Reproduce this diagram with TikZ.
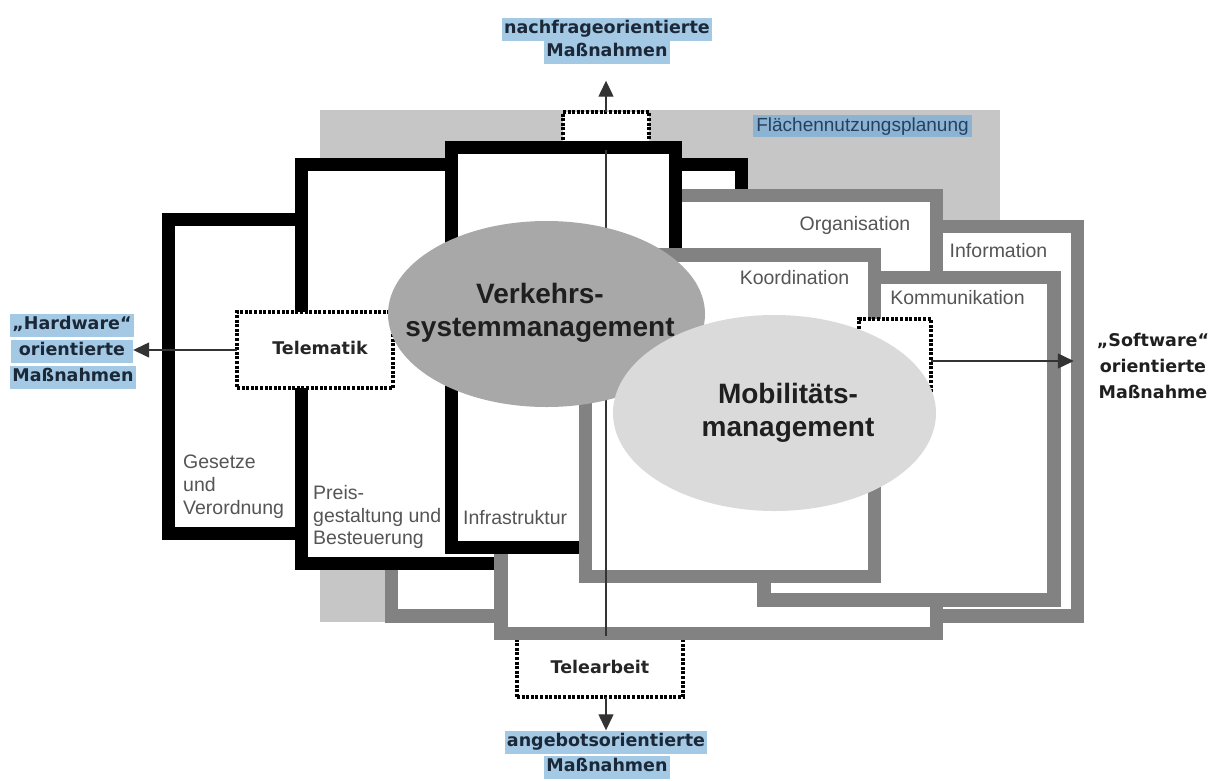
\documentclass[tikz,border=0pt]{standalone}
\usepackage{fontspec}
\setmainfont{Liberation Sans}
\newfontfamily\tagfont{DejaVu Sans}
\usetikzlibrary{arrows.meta,shapes.geometric}

\definecolor{planGray}{HTML}{C6C6C6}
\definecolor{frameGray}{HTML}{828282}
\definecolor{vsmGray}{HTML}{A8A8A8}
\definecolor{mobGray}{HTML}{DADADA}
\definecolor{tagBlue}{HTML}{A4C9E4}
\definecolor{planBlue}{HTML}{8DB3D3}
\definecolor{tagText}{HTML}{1B2838}
\definecolor{planText}{HTML}{25415F}
\definecolor{boxText}{HTML}{555555}
\definecolor{wire}{HTML}{333333}

\begin{document}
\begin{tikzpicture}[x=1pt,y=-1pt,
  panel/.style={rectangle, inner sep=0pt, outer sep=0pt, fill=white},
  hardpanel/.style={panel, draw=black, line width=13pt},
  softpanel/.style={panel, draw=frameGray, line width=13.5pt},
  dotbox/.style={rectangle, inner sep=0pt, outer sep=0pt, fill=white, draw=black,
    line width=3.4pt, dash pattern=on 3pt off 1.6pt, text=black!85,
    font=\tagfont\bfseries\fontsize{17.5}{20}\selectfont},
  boxtext/.style={text=boxText, font=\fontsize{19.5}{23}\selectfont, inner sep=0pt, align=left},
  tagline/.style={fill=tagBlue, text=tagText, font=\tagfont\bfseries\fontsize{17.5}{20}\selectfont,
    inner xsep=2pt, inner ysep=3pt, text height=13pt, text depth=4pt},
  bigtext/.style={text=black!88, font=\bfseries\fontsize{28}{33}\selectfont, align=center, inner sep=0pt},
  conn/.style={draw=wire, line width=1.3pt},
  tipped/.style={-{Triangle[length=16pt,width=15pt]}}
]
\path[use as bounding box] (0,0) rectangle (1219,780);

% planning area in the background
\node[fill=planGray, inner sep=0pt, minimum width=680pt, minimum height=512pt] (plan) at (660,366) {};
\node[fill=planBlue, text=planText, font=\fontsize{19}{22}\selectfont, inner xsep=3pt, inner ysep=2pt,
  text height=14pt, text depth=4pt] (planlabel) at (862.5,126) {Flächennutzungsplanung};

% demand side box at the top
\node[dotbox, minimum width=86pt, minimum height=38pt] (topdot) at (606,131) {};

% software frame behind the hardware frames
\node[softpanel, minimum width=686pt, minimum height=389.5pt] (info) at (734.5,421.25) {};
\node[boxtext] (infotext) at (998.5,251) {Information};

% hardware frames
\node[hardpanel, minimum width=171.5pt, minimum height=314pt] (law) at (254.25,376.5) {};
\node[boxtext, anchor=west] (lawtext) at (183,487) {Gesetze\\und\\Verordnung};

\node[hardpanel, minimum width=440.5pt, minimum height=399pt] (price) at (521.25,364) {};
\node[boxtext, anchor=west, font=\fontsize{19.5}{22.5}\selectfont] (pricetext) at (313,517) {Preis-\\gestaltung und\\Besteuerung};

% supply side box at the bottom
\node[dotbox, minimum width=166pt, minimum height=61pt] (telework) at (600,666.5) {Telearbeit};

\node[softpanel, minimum width=435.5pt, minimum height=438pt] (orga) at (718.75,414.5) {};
\node[boxtext] (orgatext) at (855,225) {Organisation};

\node[hardpanel, minimum width=223.5pt, minimum height=400pt] (infra) at (563.25,347.5) {};
\node[boxtext, anchor=west] (infratext) at (463,518) {Infrastruktur};

\node[softpanel, minimum width=290pt, minimum height=322.5pt] (komm) at (909,438.75) {};
\node[boxtext] (kommtext) at (957.5,298) {Kommunikation};

\node[softpanel, minimum width=289pt, minimum height=321.5pt] (koord) at (730,415.75) {};
\node[boxtext] (koordtext) at (794.5,278) {Koordination};

% interface boxes
\node[dotbox, minimum width=156pt, minimum height=76pt] (telematik) at (315,350) {\raisebox{5pt}{\hspace*{10pt}Telematik}};
\node[dotbox, minimum width=72pt, minimum height=84pt] (swdot) at (895,361) {};

% outer labels
\node[tagline] (nf1) at (607,29) {nachfrageorientierte};
\node[tagline] (nf2) at (607,52) {Maßnahmen};
\node[tagline] (ab1) at (606,742) {angebotsorientierte};
\node[tagline] (ab2) at (607,767) {Maßnahmen};
\node[tagline, minimum width=122pt] (hw1) at (72,325) {„Hardware“};
\node[tagline, minimum width=122pt] (hw2) at (72,351) {orientierte};
\node[tagline, minimum width=122pt] (hw3) at (73,377) {Maßnahmen};
\node[text=black!88, font=\tagfont\bfseries\fontsize{17.5}{26}\selectfont, align=center, inner sep=0pt]
  (sw) at (1153,366) {„Software“\\orientierte\\Maßnahme};

% axes
\draw[conn] (topdot.south) -- (topdot.south |- telework.north);
\draw[conn, tipped, shorten >=17pt] (topdot.north) -- (topdot.north |- nf2.south);
\draw[conn, tipped] (telework.south -| topdot.south) -- (ab1.north -| topdot.south);
\draw[conn, tipped] (telematik.west) -- (telematik.west -| hw2.east);
\draw[conn, tipped, shorten >=23pt] (swdot.east) -- (swdot.east -| sw.west);

% the two management fields
\node[ellipse, fill=vsmGray, minimum width=317pt, minimum height=186pt, inner sep=0pt] (vsm) at (546.5,314) {};
\node[bigtext] (vsmtext) at (540,313) {Verkehrs-\\systemmanagement};
\node[ellipse, fill=mobGray, minimum width=323pt, minimum height=196pt, inner sep=0pt] (mob) at (774.5,413) {};
\node[bigtext] (mobtext) at (788,413) {Mobilitäts-\\management};
\end{tikzpicture}
\end{document}
